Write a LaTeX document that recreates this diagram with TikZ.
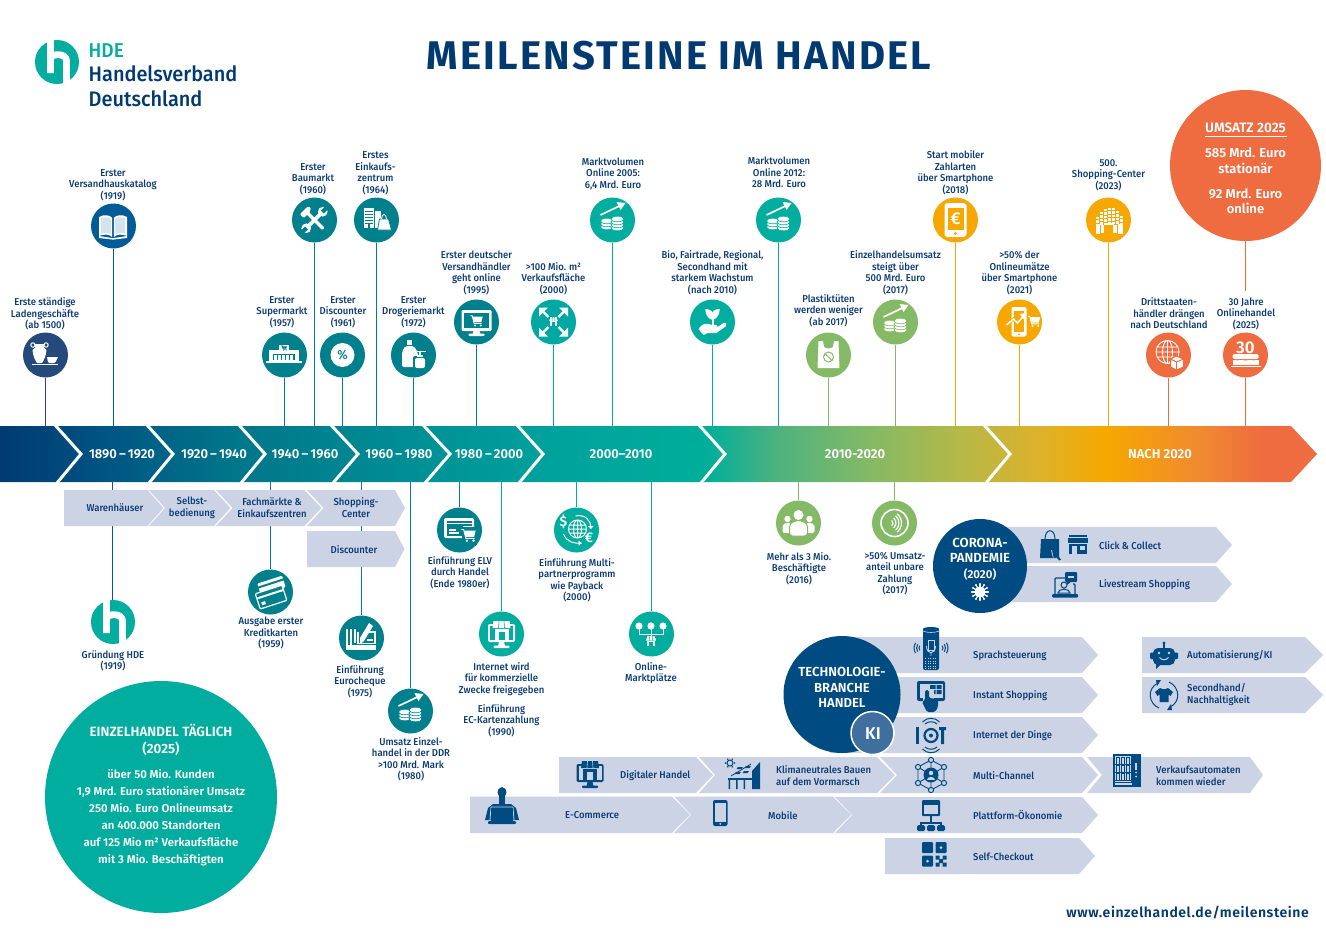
\documentclass[tikz,border=0pt]{standalone}
\usepackage{fontspec}
\setmainfont{Fira Sans}[FakeStretch=0.9]
\newfontfamily\medf{Fira Sans Medium}[FakeStretch=0.95]
\newfontfamily\semf{Fira Sans SemiBold}
\newfontfamily\titf{Fira Sans Bold}[LetterSpace=5.5]
\newfontfamily\webf{Fira Sans SemiBold}[LetterSpace=4]
\usetikzlibrary{calc}
\definecolor{navy}{HTML}{003A70}
\definecolor{lnavy}{HTML}{24497A}
\definecolor{dblue}{HTML}{004C82}
\definecolor{mblue}{HTML}{005B96}
\definecolor{teald}{HTML}{00808C}
\definecolor{tealm}{HTML}{00A8A3}
\definecolor{teall}{HTML}{00AD9F}
\definecolor{grn}{HTML}{84B965}
\definecolor{yel}{HTML}{F7A800}
\definecolor{org}{HTML}{EF6B40}
\definecolor{pale}{HTML}{CCD3E5}
\definecolor{txtc}{HTML}{0A3A75}
\definecolor{kic}{HTML}{3F6F9F}
\definecolor{bookp}{HTML}{D5E3EE}
\definecolor{ba}{HTML}{005382}
\definecolor{bb}{HTML}{00758A}
\definecolor{bc}{HTML}{009196}
\definecolor{bd}{HTML}{00A29C}
\definecolor{be}{HTML}{00AE9B}
\definecolor{bf}{HTML}{4EB27F}
\definecolor{bg}{HTML}{84B965}
\definecolor{bh}{HTML}{B5B848}
\definecolor{bi}{HTML}{DEB12A}
\definecolor{bj}{HTML}{F6A800}
\definecolor{bk}{HTML}{F08A30}
\pgfdeclarehorizontalshading{bandshade}{100bp}{
 color(0bp)=(navy);color(25bp)=(navy);
 color(28.8bp)=(ba);
 color(33.7bp)=(bb);
 color(41.3bp)=(bc);
 color(46bp)=(bd);
 color(51.8bp)=(be);
 color(54.5bp)=(bf);
 color(58bp)=(bg);
 color(61.5bp)=(bh);
 color(64.5bp)=(bi);
 color(67bp)=(bj);
 color(70.5bp)=(bk);
 color(73bp)=(org);color(100bp)=(org)}
\tikzset{
 circ/.style={circle,inner sep=0pt,minimum size=45pt,draw=none},
 conn/.style={line width=1.1pt},
 lab/.style={inner sep=0pt,align=center,text=txtc,font=\fontsize{10}{11.5}\selectfont\medf},
 chevtxt/.style={inner sep=0pt,align=center,text=txtc,font=\fontsize{10}{12}\selectfont\medf},
 chevleft/.style={chevtxt,anchor=west,align=left},
 bandtxt/.style={inner sep=0pt,text=white,font=\fontsize{13}{14}\selectfont\semf},
 big/.style={inner sep=0pt,align=center,text=white,font=\fontsize{13}{15}\selectfont\semf},
 sep/.style={draw=white,line width=3pt,miter limit=10},
}
% name,x,y,colour : milestone above the band
\newcommand{\up}[4]{\node[circ,fill=#4] (#1) at (#2,#3) {};\coordinate (#1b) at (#2,426);\draw[conn,draw=#4] (#1) -- (#1b);}
\newcommand{\dn}[4]{\node[circ,fill=#4] (#1) at (#2,#3) {};\coordinate (#1b) at (#2,482);\draw[conn,draw=#4] (#1b) -- (#1);}
% name, x left, x notch, x right, x tip, y top, y bottom
\newcommand{\chev}[7]{\fill[pale] (#2,#6)--(#4,#6)--(#5,{(#6+#7)/2})--(#4,#7)--(#2,#7)--(#3,{(#6+#7)/2})--cycle;}
% x,y, fg, bg, body
\newcommand{\ic}[4]{\begin{scope}[shift={(#1)}]\colorlet{fgc}{#2}\colorlet{bgc}{#3}#4\end{scope}}
\newcommand{\bCoins}{%
 \draw[fgc,line width=1.7] (-12,-5)--(9,-15);
 \fill[fgc] (13,-17)--(4,-18)--(8,-10)--cycle;
 \foreach \p/\q in {-5.5/7,-5.5/4,-5.5/1,5/8,5/5,5/2,5/-1}{\filldraw[fill=fgc,draw=bgc,line width=.6] (\p,\q) ellipse (6.6 and 2.8);}
}
\newcommand{\bCart}{%
 \draw[fgc,line width=.9] (-6,-5)--(-4,-5)--(-2,3)--(6,3);
 \fill[fgc] (-3.6,-4)--(7,-4)--(5.6,1.6)--(-2.4,1.6)--cycle;
 \fill[fgc] (-1,5.2) circle (1.2) (5,5.2) circle (1.2);
}
\newcommand{\bShop}{%
 \fill[fgc] (-7,-2)--(-5,-8)--(5,-8)--(7,-2)--cycle;
 \draw[bgc,line width=.5] (-2.4,-2)--(-2,-8) (2.4,-2)--(2,-8);
 \fill[fgc] (-5.6,-1.6) rectangle (5.6,6);
 \fill[bgc] (-2.4,0) rectangle (2.4,6);
}
\newcommand{\bMonShop}{%
 \fill[fgc,rounded corners=1.4] (-13.5,-10) rectangle (13.5,8);
 \fill[bgc] (-11.5,-8) rectangle (11.5,6);
 \fill[fgc] (-2.5,8)--(2.5,8)--(3.5,12)--(-3.5,12)--cycle;
 \fill[fgc,rounded corners=.8] (-8,11.5) rectangle (8,14);
 \fill[fgc] (-7,-5) rectangle (7,6);
 \fill[bgc] (-3,-2) rectangle (3,6);
 \fill[fgc] (-8,-13)--(8,-13)--(9,-6)--(-9,-6)--cycle;
 \draw[bgc,line width=.6] (-3,-6)--(-2.5,-13) (3,-6)--(2.5,-13);
}
\newcommand{\bWave}{\draw[fgc,line width=1] (0,0) ++(-35:4) arc (-35:35:4);\draw[fgc,line width=1] (0,0) ++(-35:6.5) arc (-35:35:6.5);\draw[fgc,line width=1] (0,0) ++(-35:9) arc (-35:35:9);}
\begin{document}
\begin{tikzpicture}[x=1pt,y=-1pt]
\useasboundingbox (0,0) rectangle (1326,935);
\fill[white] (0,0) rectangle (1326,935);

%% ---------------- logo and title
\newcommand{\hlogo}[2]{\begin{scope}[shift={(#1,#2)}]
 \fill[teall] (0,0) circle (22);
 \draw[white,line width=6.8] (-6.5,-23)--(-6.5,11) (-6.5,-3.5) .. controls (-5,-9) and (9.5,-9) .. (9.5,-1) -- (9.5,23);
 \end{scope}}
\hlogo{57}{62}
\node[inner sep=0,anchor=base west,text=teall,font=\fontsize{20}{22}\selectfont\medf] (hde) at (88.5,57) {HDE};
\node[inner sep=0,anchor=base west,text=navy,font=\fontsize{21}{24}\selectfont\medf] (hv) at (88.5,81) {Handelsverband};
\node[inner sep=0,anchor=base west,text=navy,font=\fontsize{21}{24}\selectfont\medf] (hd) at (88.5,106) {Deutschland};
\node[inner sep=0,text=navy,font=\fontsize{40}{42}\selectfont\titf] (title) at (679,56) {MEILENSTEINE IM HANDEL};
\node[inner sep=0,anchor=east,text=navy,font=\fontsize{14}{16}\selectfont\webf] (web) at (1309,913) {www.einzelhandel.de/meilensteine};

%% ---------------- band
\path[shading=bandshade,shading angle=0] (0,426)--(1291,426)--(1317,454)--(1291,482)--(0,482)--cycle;
\foreach \a/\b in {55/81,147/173,239/265,331/358,423/450,517/543,699/725,984/1010}{
 \pgfmathsetmacro{\c}{\a+2}
 \draw[sep] (\a,425)--(\b,454)--(\c,483);}
\node[bandtxt] (t1) at (122,454) {1890\,–\,1920};
\node[bandtxt] (t2) at (214,454) {1920\,–\,1940};
\node[bandtxt] (t3) at (305,454) {1940\,–\,1960};
\node[bandtxt] (t4) at (399,454) {1960\,–\,1980};
\node[bandtxt] (t5) at (489,454) {1980\,–\,2000};
\node[bandtxt] (t6) at (621,454) {2000–2010};
\node[bandtxt] (t7) at (855,454) {2010-2020};
\node[bandtxt] (t8) at (1160,454) {NACH 2020};

%% ---------------- milestones above
\up{m1}{45.5}{355}{lnavy}
\up{m2}{113.5}{226}{mblue}
\up{m3}{284.5}{355}{teald}
\up{m4}{314.5}{220}{teald}
\up{m5}{342.5}{355}{teald}
\up{m6}{376.5}{220}{teald}
\up{m7}{413.5}{355}{teald}
\up{m8}{476.5}{322}{teald}
\up{m9}{553.5}{322}{tealm}
\up{m10}{612.5}{220}{teall}
\up{m11}{712.5}{322}{teall}
\up{m12}{778.5}{220}{teall}
\up{m13}{828.5}{355}{grn}
\up{m14}{895.5}{322}{grn}
\up{m15}{955.5}{220}{yel}
\up{m16}{1019.5}{322}{yel}
\up{m17}{1108.5}{220}{yel}
\up{m18}{1168.5}{355}{org}
\up{m19}{1245.5}{355}{org}

\node[lab,anchor=south] (l1) at (45,330.5) {Erste ständige\\Ladengeschäfte\\(ab 1500)};
\node[lab,anchor=south] (l2) at (113,201) {Erster\\Versandhauskatalog\\(1919)};
\node[lab,anchor=south] (l3) at (282,328) {Erster\\Supermarkt\\(1957)};
\node[lab,anchor=south] (l4) at (313,195) {Erster\\Baumarkt\\(1960)};
\node[lab,anchor=south] (l5) at (343,328) {Erster\\Discounter\\(1961)};
\node[lab,anchor=south] (l6) at (375.5,195) {Erstes\\Einkaufs-\\zentrum\\(1964)};
\node[lab,anchor=south] (l7) at (413.5,328) {Erster\\Drogeriemarkt\\(1972)};
\node[lab,anchor=south] (l8) at (476.5,295) {Erster deutscher\\Versandhändler\\geht online\\(1995)};
\node[lab,anchor=south] (l9) at (553.5,295) {>100 Mio. m²\\Verkaufsfläche\\(2000)};
\node[lab,anchor=south] (l10) at (613,190) {Marktvolumen\\Online 2005:\\6,4 Mrd. Euro};
\node[lab,anchor=south] (l11) at (712.5,295) {Bio, Fairtrade, Regional,\\Secondhand mit\\starkem Wachstum\\(nach 2010)};
\node[lab,anchor=south] (l12) at (779,188) {Marktvolumen\\Online 2012:\\28 Mrd. Euro};
\node[lab,anchor=south] (l13) at (828.5,327) {Plastiktüten\\werden weniger\\(ab 2017)};
\node[lab,anchor=south] (l14) at (895.5,295) {Einzelhandelsumsatz\\steigt über\\500 Mrd. Euro\\(2017)};
\node[lab,anchor=south] (l15) at (955.5,195) {Start mobiler\\Zahlarten\\über Smartphone\\(2018)};
\node[lab,anchor=south] (l16) at (1019.5,295) {>50\% der\\Onlineumätze\\über Smartphone\\(2021)};
\node[lab,anchor=south] (l17) at (1108.5,191) {500.\\Shopping-Center\\(2023)};
\node[lab,anchor=south] (l18) at (1169,329) {Drittstaaten-\\händler drängen\\nach Deutschland};
\node[lab,anchor=south] (l19) at (1246,330) {30 Jahre\\Onlinehandel\\(2025)};

%% ---------------- turnover circle
\node[circle,inner sep=0,minimum size=151pt,fill=org] (umsatz) at (1245.5,165.5) {};
\coordinate (umsatzend) at (1245.5,291);
\draw[conn,draw=org] (umsatz) -- (umsatzend);
\node[big,font=\fontsize{13.6}{15}\selectfont\semf] (u1) at (1245.5,127.5) {UMSATZ 2025};
\coordinate (ua) at (1204.5,136.5);\coordinate (ub) at (1287,136.5);
\draw[white,line width=.9] (ua)--(ub);
\node[big] (u2) at (1245.5,153) {585 Mrd. Euro};
\node[big] (u3) at (1245.5,168.5) {stationär};
\node[big] (u4) at (1245.5,193.5) {92 Mrd. Euro};
\node[big] (u5) at (1245.5,208.5) {online};

%% ---------------- milestones below
\coordinate (hdeb) at (112.5,482);
\node[circ,minimum size=44pt] (hdec) at (112.5,622) {};
\draw[conn,draw=mblue] (hdeb) -- (hdec);
\hlogo{113}{622}
\dn{d1}{270.5}{592}{teald}
\dn{d2}{361.5}{638}{teald}
\dn{d3}{410.5}{711}{teald}
\dn{d4}{459.5}{530}{teald}
\dn{d5}{501.5}{634}{teall}
\dn{d6}{576.5}{530}{teall}
\dn{d7}{651.5}{634}{teall}
\dn{d8}{798.5}{523}{grn}
\dn{d9}{894.5}{523}{grn}

\node[lab,anchor=north] (b0) at (113,650) {Gründung HDE\\(1919)};
\node[lab,anchor=north] (b1) at (271,617) {Ausgabe erster\\Kreditkarten\\(1959)};
\node[lab,anchor=north] (b2) at (360,665) {Einführung\\Eurocheque\\(1975)};
\node[lab,anchor=north] (b3) at (411,737) {Umsatz Einzel-\\handel in der DDR\\>100 Mrd. Mark\\(1980)};
\node[lab,anchor=north] (b4) at (460,556) {Einführung ELV\\durch Handel\\(Ende 1980er)};
\node[lab,anchor=north] (b5) at (501.5,662) {Internet wird\\für kommerzielle\\Zwecke freigegeben};
\node[lab,anchor=north] (b5b) at (501.5,704) {Einführung\\EC-Kartenzahlung\\(1990)};
\node[lab,anchor=north] (b6) at (577,558) {Einführung Multi-\\partnerprogramm\\wie Payback\\(2000)};
\node[lab,anchor=north] (b7) at (651,662) {Online-\\Marktplätze};
\node[lab,anchor=north] (b8) at (799,552) {Mehr als 3 Mio.\\Beschäftigte\\(2016)};
\node[lab,anchor=north] (b9) at (895,552) {>50\% Umsatz-\\anteil unbare\\Zahlung\\(2017)};

%% ---------------- era chevrons
\chev{c1}{64}{64}{147.5}{163.5}{490}{526}
\chev{c2}{149}{165}{214}{230.5}{490}{526}
\chev{c3}{216}{232.5}{304.5}{321.5}{490}{526}
\chev{c4}{307}{323.5}{395}{405}{490}{526}
\chev{c5}{307}{307}{395}{404.5}{531}{567}
\node[chevtxt] (ct1) at (115,507.5) {Warenhäuser};
\node[chevtxt] (ct2) at (192,507.5) {Selbst-\\bedienung};
\node[chevtxt] (ct3) at (272,507.5) {Fachmärkte \&\\Einkaufszentren};
\node[chevtxt] (ct4) at (356,507.5) {Shopping-\\Center};
\node[chevtxt] (ct5) at (354,549.5) {Discounter};

%% ---------------- corona
\chev{r1}{975}{975}{1216}{1232}{527}{563}
\chev{r2}{975}{975}{1216}{1232}{566}{602}
\node[circle,inner sep=0,minimum size=94pt,fill=dblue] (corona) at (980,566) {};
\node[big,font=\fontsize{13.2}{15.4}\selectfont\semf] (ctxt) at (980,550.5) {CORONA-\\PANDEMIE};
\node[big,font=\fontsize{11.5}{13}\selectfont\semf] (cyr) at (980,574) {(2020)};
\node[chevleft] (rt1) at (1099,545.5) {Click \& Collect};
\node[chevleft] (rt2) at (1099,584.5) {Livestream Shopping};

%% ---------------- technology rows
\chev{s1}{830}{830}{1082}{1098}{637}{673}
\chev{s2}{830}{830}{1082}{1098}{677}{713}
\chev{s3}{830}{830}{1082}{1098}{717}{753}
\chev{s4}{880}{897}{1082}{1098}{757}{793}
\chev{s5}{835}{852}{1082}{1098}{797}{833}
\chev{s6}{885}{885}{1079}{1095}{838}{874}
\chev{a1}{559}{559}{696}{713}{757}{793}
\chev{a2}{699}{715}{877}{895}{757}{793}
\chev{a3}{1087}{1102}{1250}{1263}{757}{793}
\chev{e1}{470}{470}{672}{690}{796.5}{833}
\chev{e2}{674}{691}{833}{851}{796.5}{833}
\chev{k1}{1142}{1142}{1305}{1323}{637}{673}
\chev{k2}{1142}{1142}{1305}{1323}{677}{713}
\node[circle,inner sep=0,minimum size=117pt,fill=dblue] (tech) at (842,694.5) {};
\node[big,font=\fontsize{13.1}{15.8}\selectfont\semf] (techt) at (842,687.5) {TECHNOLOGIE-\\BRANCHE\\HANDEL};
\node[circle,inner sep=0,minimum size=43pt,fill=kic,draw=white,line width=1.5pt] (ki) at (872.5,733) {};
\node[big,font=\fontsize{17}{18}\selectfont\semf] (kit) at (873,734) {KI};
\node[chevleft] (st1) at (973,655.5) {Sprachsteuerung};
\node[chevleft] (st2) at (973,695.5) {Instant Shopping};
\node[chevleft] (st3) at (973,736) {Internet der Dinge};
\node[chevleft] (st4) at (973,775.5) {Multi-Channel};
\node[chevleft] (st5) at (973,815.5) {Plattform-Ökonomie};
\node[chevleft] (st6) at (973,856.5) {Self-Checkout};
\node[chevleft] (at1) at (620,775.5) {Digitaler Handel};
\node[chevleft] (at2) at (776,776) {Klimaneutrales Bauen\\auf dem Vormarsch};
\node[chevleft] (at3) at (1156,776) {Verkaufsautomaten\\kommen wieder};
\node[chevleft] (et1) at (565,815.5) {E-Commerce};
\node[chevleft] (et2) at (768,815.5) {Mobile};
\node[chevleft] (kt1) at (1187,655.5) {Automatisierung/KI};
\node[chevleft] (kt2) at (1187,695) {Secondhand/\\Nachhaltigkeit};

%% ---------------- big green circle
\node[circle,inner sep=0,minimum size=232pt,fill=teall] (daily) at (161,797) {};
\node[big,font=\fontsize{13.4}{17}\selectfont\semf] (dt) at (161,739.5) {EINZELHANDEL TÄGLICH\\(2025)};
\node[big,font=\fontsize{11.4}{17}\selectfont\semf] (dl) at (161,818) {über 50 Mio. Kunden\\1,9 Mrd. Euro stationärer Umsatz\\250 Mio. Euro Onlineumsatz\\an 400.000 Standorten\\auf 125 Mio m² Verkaufsfläche\\mit 3 Mio. Beschäftigten};

%% ================ ICONS ================
% vase
\ic{45,355}{white}{lnavy}{
 \fill[fgc] (-11,-11)--(0,-11)--(-1.5,-8)--(1.5,-5) .. controls (1,1) and (-1,5) .. (-3,8)--(-8,8) .. controls (-10,5) and (-12,1) .. (-12.5,-5)--(-9.5,-8)--cycle;
 \draw[fgc,line width=1] (-12,-10) circle (2.2) (1,-10) circle (2.2);
 \fill[fgc] (2,2)--(13,2)--(10.5,7)--(9,8)--(4.5,8)--(3,7)--cycle;
 \fill[fgc] (-13,9.3) rectangle (13,10.3);
}
% book
\ic{113,226}{white}{mblue}{
 \fill[fgc] (-14,-9) .. controls (-9,-12) and (-3,-11) .. (-.8,-8)--(-.8,11) .. controls (-4,8) and (-9,8) .. (-14,10)--cycle;
 \fill[fgc] (14,-9) .. controls (9,-12) and (3,-11) .. (.8,-8)--(.8,11) .. controls (4,8) and (9,8) .. (14,10)--cycle;
 \fill[fgc] (-14,10)--(-1,12)--(1,12)--(14,10)--(14,12)--(1,13.5)--(-1,13.5)--(-14,12)--cycle;
 \fill[bookp] (-12,-7.6) .. controls (-8,-9.6) and (-4,-9) .. (-2.2,-6.6)--(-2.2,8.4) .. controls (-5,6.6) and (-9,6.6) .. (-12,7.6)--cycle;
 \fill[bookp] (12,-7.6) .. controls (8,-9.6) and (4,-9) .. (2.2,-6.6)--(2.2,8.4) .. controls (5,6.6) and (9,6.6) .. (12,7.6)--cycle;
}
% supermarket
\ic{284,355}{white}{teald}{
 \fill[fgc] (-18,6) rectangle (18,8);
 \fill[fgc] (-15,-5) rectangle (15,6);
 \fill[fgc] (-5,-10) rectangle (5,-4);
 \fill[bgc] (-11,-1) rectangle (11,5);
 \foreach \p in {-10,-6,-2,2,6}{\fill[fgc] (\p,-.5) rectangle +(3,5.5);}
 \begin{scope}[shift={(0,-7)},scale=.42]\colorlet{fgc}{teald}\bCart\end{scope}
}
% tools
\ic{314.5,220}{white}{teald}{
 \begin{scope}[rotate=45,scale=.9]
 \fill[fgc,rounded corners=1] (-1.9,-15) rectangle (1.9,14);
 \fill[fgc,rounded corners=1] (-7,-16)--(5,-16)--(7,-13)--(3,-10)--(-7,-10)--cycle;
 \end{scope}
 \begin{scope}[rotate=-45,scale=.9]
 \fill[fgc,rounded corners=1] (-2.1,-12) rectangle (2.1,12);
 \fill[fgc] (0,-13) circle (5.4);\fill[bgc] (-2.2,-20) rectangle (2.2,-12.5);
 \fill[fgc] (0,13) circle (5.4);\fill[bgc] (-2.2,12.5) rectangle (2.2,20);
 \end{scope}
}
% mall
\ic{376.5,220}{white}{teald}{
 \fill[fgc] (-13,-12) rectangle (-3,8);
 \foreach \q in {-9,-6,-3,0,3}{\fill[bgc] (-12,\q) rectangle (-4,\q+.9);}
 \fill[bgc] (-8.5,4) rectangle (-6.5,8);
 \fill[fgc] (-2,-9) rectangle (4,8);
 \filldraw[fill=fgc,draw=bgc,line width=.8] (3,-1)--(12,-1)--(15,10)--(1,10)--cycle;
 \draw[fgc,line width=.9] (5,-1) .. controls (5,-7) and (10,-7) .. (10,-1);
}
% percent
\ic{342.5,355}{white}{teald}{
 \fill[fgc] (0,0) circle (12);
 \node[inner sep=0,text=teald,font=\fontsize{13}{13}\selectfont\medf] (pct) at (0,0) {\%};
}
% bottles
\ic{413,355}{white}{teald}{
 \fill[fgc] (-6,-15) rectangle (-1,-10);
 \fill[fgc,rounded corners=2] (-11,12)--(-11,-3)--(-8,-9)--(1,-9)--(5,-2)--(5,12)--cycle;
 \fill[bgc,rounded corners=2] (0,14)--(0,1)--(12,1)--(13,14)--cycle;
 \fill[fgc,rounded corners=2] (2,13)--(2,3)--(12,3)--(12,13)--cycle;
 \fill[fgc] (4,0) rectangle (10,2);\fill[fgc] (5.5,-3) rectangle (8,0);\fill[fgc] (3,-4) rectangle (13,-2.6);
}
% monitor + cart
\ic{476.5,322}{white}{teald}{
 \fill[fgc,rounded corners=1.2] (-15,-12) rectangle (15,9);
 \fill[bgc] (-12.5,-9.5) rectangle (12.5,6);
 \fill[fgc] (-3,9)--(3,9)--(4,12)--(-4,12)--cycle;
 \fill[fgc,rounded corners=.8] (-8,11.5) rectangle (8,14);
 \begin{scope}[shift={(-.5,-1.5)},scale=.95]\bCart\end{scope}
}
% expanding arrows + shop
\ic{553.5,322}{white}{tealm}{
 \foreach \sx/\sy in {1/1,-1/1,1/-1,-1/-1}{
 \begin{scope}[xscale=\sx,yscale=\sy]
 \draw[fgc,line width=2.2] (5,5)--(11,11);
 \fill[fgc] (14.5,14.5)--(5.5,14.5)--(14.5,5.5)--cycle;
 \end{scope}}
 \begin{scope}[shift={(0,0)},scale=.6]\bShop\end{scope}
}
% coins
\ic{612.5,220}{white}{teall}{\bCoins}
\ic{778.5,220}{white}{teall}{\bCoins}
\ic{895.5,322}{white}{grn}{\bCoins}
\ic{410.5,711}{white}{teald}{\bCoins}
% hand + plant
\ic{712.5,322}{white}{teall}{
 \fill[fgc] (0,-2) .. controls (-8,-5) and (-7,-12) .. (-7,-13) .. controls (-3,-13) and (0,-11) .. (0,-9) .. controls (0,-11) and (3,-13) .. (7,-13) .. controls (7,-12) and (8,-5) .. (0,-2)--cycle;
 \fill[fgc] (-1,-3) rectangle (1,3);
 \fill[fgc] (-14,7) .. controls (-10,1) and (-6,1) .. (-2,2.5)--(4,3) .. controls (6,3.5) and (5,6) .. (3,6)--(-2,6)--(3,6.5)--(11,1) .. controls (14,0) and (15,3) .. (13,4.5)--(4,11)--(-5,11)--(-9,13)--cycle;
}
% plastic bag
\ic{828.5,355}{white}{grn}{
 \fill[fgc] (-10,-14)--(-5.5,-14)--(-4.5,-8) .. controls (-2,-6) and (2,-6) .. (4.5,-8)--(5.5,-14)--(10,-14)--(11,13)--(-11,13)--cycle;
 \draw[bgc,line width=1] (0,2) circle (5);
 \draw[bgc,line width=1] (-3.5,-1.5)--(3.5,5.5);
}
% phone with euro
\ic{955.5,220}{white}{yel}{
 \fill[fgc,rounded corners=3] (-11,-17) rectangle (11,17);
 \fill[bgc] (-8,-12.5) rectangle (8,10);
 \fill[bgc] (0,13.5) circle (1.7);
 \node[inner sep=0,text=white,font=\fontsize{17}{17}\selectfont\semf] (eur) at (0,-1.5) {€};
}
% phone, graph, cart
\ic{1019.5,322}{white}{yel}{
 \fill[fgc,rounded corners=2] (-8,-15) rectangle (7,14.5);
 \fill[bgc] (-5.8,-11) rectangle (4.8,10);
 \fill[bgc] (-.5,12.3) circle (1);
 \draw[bgc,line width=3.2] (-13,2)--(-6,-3)--(-2,1)--(5,-7);
 \draw[fgc,line width=1.5] (-13,3)--(-6,-3)--(-2,1)--(4,-6);
 \fill[fgc] (7,-9)--(0,-8)--(5,-2)--cycle;
 \begin{scope}[shift={(14,-1)},scale=.95]\bCart\end{scope}
}
% shopping centre building
\ic{1108.5,220}{white}{yel}{
 \foreach \p/\h in {-13/-3,-9/-8,-5/-11,-1/-12,3/-12,7/-9,11/-4}{
  \foreach \q in {0,1,2,3,4}{
   \pgfmathsetmacro{\yy}{\h+\q*3.4}
   \ifdim \yy pt<4pt \fill[fgc] (\p,\yy) rectangle +(3,2.4);\fi}}
 \fill[fgc] (-13,4) rectangle (-9,14);\fill[fgc] (-8,5) rectangle (-4.5,13);
 \fill[fgc] (4.5,5) rectangle (8,13);\fill[fgc] (9,4) rectangle (14,14);
 \fill[fgc] (-5,3)--(5,3)--(5,5)--(-5,5)--cycle;
}
% globe + box
\ic{1168.5,355}{white}{org}{
 \begin{scope}[shift={(-1,-3)}]
 \draw[fgc,line width=.9] (0,0) circle (11.5) (0,0) ellipse (5 and 11.5) (-11.5,0)--(11.5,0) (-10,-5)--(10,-5) (-10,5)--(10,5) (0,-11.5)--(0,11.5);
 \end{scope}
 \filldraw[fill=fgc,draw=bgc,line width=1] (2,4)--(8,1)--(15,4)--(15,12)--(8,15)--(2,12)--cycle;
 \draw[bgc,line width=.9] (2,4)--(8,7)--(15,4) (8,7)--(8,15);
}
% cake 30
\ic{1245.5,355}{white}{org}{
 \node[inner sep=0,text=white,font=\fontsize{17}{17}\selectfont\semf] (n30) at (0,-7.5) {30};
 \fill[fgc,rounded corners=1.5] (-13,-1)--(13,-1)--(13,4)--(-13,4)--cycle;
 \fill[fgc] (-13,4.8) rectangle (13,10);
 \fill[bgc] (-13,3.5) .. controls (-9,6) and (-6,6) .. (-4,4) .. controls (-2,6) and (2,6) .. (4,4) .. controls (6,6) and (9,6) .. (13,3.5)--(13,4.8)--(-13,4.8)--cycle;
 \fill[fgc] (-15,10.5) rectangle (15,12);
}
% credit cards
\ic{270.5,592}{white}{teald}{
 \begin{scope}[rotate=18,shift={(3,-6)}]\fill[fgc,rounded corners=1] (-13,-6) rectangle (13,6);\fill[bgc] (-14,-3) rectangle (14,-1);\end{scope}
 \begin{scope}[rotate=18,shift={(-1,5)}]\filldraw[fill=bgc,draw=fgc,line width=1.2,rounded corners=1] (-14,-8) rectangle (14,8);\fill[fgc] (-14,-4) rectangle (14,-2);\fill[fgc] (-11,2) rectangle (-7,5);\end{scope}
}
% cheque and pen
\ic{361,638}{white}{teald}{
 \fill[fgc] (-15,-9) rectangle (-13,7);
 \fill[fgc] (-11,-9) rectangle (-9,7);
 \fill[fgc] (-7,-9) rectangle (-5,5);
 \fill[fgc] (-15,7) rectangle (15,12);
 \draw[fgc,line width=1.5] (-3,-6)--(-3,5.5)--(14,5.5)--(14,-6)--(7,-6);
 \fill[fgc] (-1,6)--(-1,0)--(8,-15)--(12,-12)--(3,3)--cycle;
 \fill[fgc] (6,.5) rectangle (12,2.5);
}
% ELV card + cart
\ic{460,530}{white}{teald}{
 \fill[fgc,rounded corners=2] (-16,-12) rectangle (14,8);
 \fill[bgc] (-13.5,-9.5) rectangle (11.5,-7.5);
 \fill[bgc] (-13.5,-4.5) rectangle (3,5.5);
 \fill[bgc] (-13.5,-6) rectangle (11.5,-4.5);
 \fill[fgc] (-11,-1) rectangle (-4,1);\fill[fgc] (-11,2) rectangle (-1,3.5);
 \fill[bgc] (2,-3) rectangle (17,15);
 \begin{scope}[shift={(8,5)},scale=1.1]\bCart\end{scope}
}
% shop monitor
\ic{501.5,634}{white}{teall}{\bMonShop}
% multipartner
\ic{576.5,530}{white}{teall}{
 \draw[fgc,line width=1] (1,-1) circle (9) (1,-1) ellipse (4 and 9) (-8,-1)--(10,-1) (-7,-5)--(9,-5) (-7,3)--(9,3) (1,-10)--(1,8);
 \draw[fgc,line width=1] (-1,-14) .. controls (8,-16) and (15,-10) .. (14,-2);
 \draw[fgc,line width=1] (-13,4) .. controls (-10,12) and (-2,14) .. (5,13);
 \fill[fgc] (14.5,-1)--(11.5,-4)--(17,-4)--cycle;
 \fill[fgc] (5,13)--(2,10.5)--(2,16)--cycle;
 \node[inner sep=0,text=white,font=\fontsize{14}{14}\selectfont\semf] (dol) at (-13,-8) {\$};
 \node[inner sep=0,text=white,font=\fontsize{14}{14}\selectfont\semf] (eu2) at (12.5,8) {€};
}
% online marketplaces
\ic{651,634}{white}{teall}{
 \fill[fgc] (-12,-8) circle (3.6) (0,-8) circle (3.6) (12,-8) circle (3.6);
 \draw[fgc,line width=.9] (-12,-8)--(-12,0)--(12,0)--(12,-8) (0,-8)--(0,4);
 \begin{scope}[shift={(0,8)},scale=.72]\bShop\end{scope}
}
% people
\ic{798.5,523}{white}{grn}{
 \fill[fgc] (-11,-4) circle (3.2) (11,-4) circle (3.2);
 \fill[fgc,rounded corners=2] (-16,10)--(-16,1)--(-8,-.5)--(-8,10)--cycle;
 \fill[fgc,rounded corners=2] (16,10)--(16,1)--(8,-.5)--(8,10)--cycle;
 \fill[fgc] (0,-8) circle (5);
 \filldraw[fill=fgc,draw=bgc,line width=1,rounded corners=3] (-9,13)--(-9,1)--(-3,-2.4)--(3,-2.4)--(9,1)--(9,13)--cycle;
}
% contactless
\ic{894.5,523}{white}{grn}{
 \draw[fgc,line width=1.6] (0,0) circle (13.5);
 \draw[fgc,line width=1.2] (-5,0) ++(-50:3.5) arc (-50:50:3.5);
 \draw[fgc,line width=1.2] (-5,0) ++(-50:6.5) arc (-50:50:6.5);
 \draw[fgc,line width=1.2] (-5,0) ++(-50:9.5) arc (-50:50:9.5);
 \draw[fgc,line width=1.2] (-5,0) ++(-50:12) arc (-50:50:12);
}
% virus
\ic{980,592}{white}{dblue}{
 \fill[fgc] (0,0) circle (5.5);
 \foreach \t in {0,30,...,330}{\draw[fgc,line width=1.2] (0,0)--(\t:8);\fill[fgc] (\t:8) circle (1.1);}
}
% bag + cursor
\ic{1050,545}{dblue}{pale}{
 \fill[fgc] (-9,-6)--(9,-6)--(9,13)--(-10,13)--cycle;
 \draw[fgc,line width=1] (-5,-6) .. controls (-5,-17) and (5,-17) .. (5,-6);
 \fill[pale] (1,5)--(9,9)--(7,10.5)--(11,15)--(8,15)--(5,11)--(3,13)--cycle;
 \fill[fgc] (2,5)--(9.5,9)--(7.5,10.5)--(11,14.5)--(9.2,15.5)--(5.5,11.5)--(3.7,13)--cycle;
}
% shop front
\ic{1078,545}{dblue}{pale}{
 \fill[fgc] (-9,-10) rectangle (9,-8);
 \fill[fgc] (-10,-7) rectangle (10,-2);
 \fill[fgc] (-9,-1) rectangle (9,9);
 \fill[bgc] (-6,1) rectangle (-1,9);
 \fill[bgc] (2,1) rectangle (7,5);
}
% laptop, person, bubble
\ic{1065,585}{dblue}{pale}{
 \draw[fgc,line width=1.3,rounded corners=1] (-10,9)--(-10,-7)--(0,-7) (8,-1)--(10,-1)--(10,9);
 \fill[fgc,rounded corners=1] (-13,9) rectangle (13,12.5);
 \draw[fgc,line width=1] (-1,0) circle (3) (-7,8) .. controls (-7,3) and (5,3) .. (5,8)--cycle;
 \fill[fgc,rounded corners=1] (0,-13) rectangle (12,-3);
 \fill[fgc] (2,-4)--(7,-4)--(2,0)--cycle;
 \fill[bgc] (3,-9) rectangle (9,-7.5);
}
% smart speaker
\ic{931,648}{dblue}{pale}{
 \fill[fgc,rounded corners=2] (-8,-20) rectangle (8,22);
 \fill[fgc] (0,-19) ellipse (8 and 2);
 \draw[pale,line width=.6] (-8,-17) .. controls (-4,-15) and (4,-15) .. (8,-17);
 \draw[pale,line width=.9] (-3,-8) rectangle (3,2);
 \draw[pale,line width=.9] (-4.5,-2) .. controls (-4.5,7) and (4.5,7) .. (4.5,-2) (0,4)--(0,8);
 \foreach \p in {-6,-3.5,-1,1.5,4}{\foreach \q in {10,12.5,15,17.5,20}{\fill[pale] (\p,\q) rectangle +(1.2,1.2);}}
 \begin{scope}[shift={(8,0)}]\bWave\end{scope}
 \begin{scope}[shift={(-8,0)},xscale=-1]\bWave\end{scope}
}
% instant shopping
\ic{931,695}{dblue}{pale}{
 \fill[fgc,rounded corners=2] (-14,-14) rectangle (14,6);
 \fill[bgc] (-11,-11) rectangle (11.5,3);
 \fill[fgc] (-1,-10) rectangle (4.5,-6) (5.5,-10) rectangle (10.5,-6) (-1,-5) rectangle (4.5,-1) (5.5,-5) rectangle (10.5,-1);
 \fill[fgc] (-13,-9) rectangle (-11,-7);
 \fill[bgc] (-8,-6) rectangle (3,18);
 \fill[fgc,rounded corners=1.5] (-6,-5)--(-2,-5)--(-2,3)--(7,4)--(7,12)--(4,17)--(-4,17)--(-9,7)--(-6,5)--cycle;
}
% IoT
\ic{931,735}{dblue}{pale}{
 \fill[fgc] (-15,-8) rectangle (-12,9);
 \draw[fgc,line width=2.2] (0,.5) circle (6.5);
 \fill[fgc] (0,.5) circle (2);
 \fill[fgc] (8,-8) rectangle (15,-5) (10,-8) rectangle (13,9);
 \draw[fgc,line width=1] (-6,-11) .. controls (-3,-14) and (3,-14) .. (6,-11);
 \draw[fgc,line width=1] (-8.5,-13) .. controls (-4,-18) and (4,-18) .. (8.5,-13);
 \draw[fgc,line width=1] (-6,12) .. controls (-3,15) and (3,15) .. (6,12);
 \draw[fgc,line width=1] (-8.5,14) .. controls (-4,19) and (4,19) .. (8.5,14);
}
% network
\ic{931,775}{dblue}{pale}{
 \draw[fgc,line width=.9] (0,-15)--(13,-8)--(13,8)--(0,15)--(-13,8)--(-13,-8)--cycle;
 \draw[fgc,line width=.9] (0,0)--(0,-15) (0,0)--(13,-8) (0,0)--(13,8) (0,0)--(0,15) (0,0)--(-13,8) (0,0)--(-13,-8);
 \foreach \p/\q in {0/-15,13/-8,13/8,0/15,-13/8,-13/-8}{\filldraw[fill=pale,draw=fgc,line width=1] (\p,\q) circle (2.6);}
 \fill[fgc] (0,0) circle (7.5);
 \fill[pale] (0,-2) circle (2.2);\fill[pale] (-3.8,4.5) .. controls (-3.8,.5) and (3.8,.5) .. (3.8,4.5)--cycle;
}
% platform
\ic{931,815}{dblue}{pale}{
 \fill[fgc,rounded corners=1] (-9,-15) rectangle (9,1);
 \fill[bgc] (-7,-10) rectangle (7,-1);
 \draw[fgc,line width=1.1] (0,1)--(0,8) (-10,13)--(-10,8)--(10,8)--(10,13);
 \fill[fgc,rounded corners=1.5] (-14,10) rectangle (-6,16) (-4,10) rectangle (4,16) (6,10) rectangle (14,16);
}
% QR
\ic{934,855}{dblue}{pale}{
 \fill[fgc,rounded corners=1] (-12,-13) rectangle (-1,-2);
 \fill[fgc,rounded corners=1] (1.5,-13) rectangle (12.5,-2);\fill[bgc] (7,-7.5) circle (1.5);
 \fill[fgc,rounded corners=1] (-12,.5) rectangle (-1,11.5);\fill[bgc] (-6.5,6) circle (1.5);
 \fill[fgc] (1.5,.5) rectangle (5.5,4.5) (8.5,.5) rectangle (12.5,4.5) (5,4) rectangle (9,8) (1.5,7.5) rectangle (5.5,11.5) (8.5,7.5) rectangle (12.5,11.5);
}
% robot
\ic{1164,655}{dblue}{pale}{
 \fill[fgc] (-.8,-11) rectangle (.8,-6);\fill[fgc] (0,-12) circle (1.6);
 \fill[fgc,rounded corners=5] (-11,-7) rectangle (11,10);
 \fill[fgc,rounded corners=1] (-14,-2.5) rectangle (14,4);
 \fill[fgc] (-8,9)--(-8,14)--(-3,9)--cycle;
 \fill[bgc] (-5,-2) circle (1.4) (5,-2) circle (1.4);
 \draw[bgc,line width=1] (-4.5,2.5) .. controls (-2,5.5) and (2,5.5) .. (4.5,2.5);
}
% shirt + arrows
\ic{1164,695}{dblue}{pale}{
 \draw[fgc,line width=1] (-6,-12) .. controls (-18,-6) and (-15,9) .. (-5,13);
 \draw[fgc,line width=1] (6,12) .. controls (17,7) and (16,-8) .. (5,-13);
 \fill[fgc] (-3,-15)--(-7,-9)--(-8,-15)--cycle;
 \fill[fgc] (3,15)--(7,9)--(8,15)--cycle;
 \fill[fgc] (-4,-7)--(-1.5,-6)--(1.5,-6)--(4,-7)--(9,-3)--(6.5,1)--(4.5,-.5)--(4.5,7)--(-4.5,7)--(-4.5,-.5)--(-6.5,1)--(-9,-3)--cycle;
}
% vending machine
\ic{1127,770.5}{dblue}{pale}{
 \fill[fgc] (-14,-16.5) rectangle (14,16);
 \fill[bgc] (-12.5,-14.5) rectangle (4,11);
 \fill[bgc] (-12.5,12.5) rectangle (5,14.5);
 \foreach \q in {-13,-5,3}{\foreach \p in {-11,-6,-1}{\draw[fgc,line width=.7] (\p,\q+6)--(\p,\q)--(\p+3.5,\q)--(\p+3.5,\q+6);}
  \draw[fgc,line width=.8] (-12.5,\q+6.5)--(4,\q+6.5);}
 \fill[bgc] (8,-8) rectangle (10,-1);
 \fill[bgc] (9,2) circle (1) (9,6) circle (1);
}
% monitor with shop
\ic{590,774}{dblue}{pale}{\bMonShop}
% solar + building
\ic{744,775}{dblue}{pale}{
 \draw[fgc,line width=1] (-14,-12) circle (3);
 \foreach \t in {0,60,...,300}{\fill[fgc] ($(-14,-12)+(\t:4.4)$) circle (.9);}
 \foreach \p/\q in {-6/-8,2/-9,-8/-3,0/-4}{\fill[fgc] (\p,\q)--(\p+5,\q)--(\p+3.5,\q+2)--(\p-1.5,\q+2)--cycle;}
 \draw[fgc,line width=.8] (-13,1)--(7,-11);
 \fill[fgc] (-16,3)--(11,3)--(11,5)--(-16,5)--cycle;
 \fill[fgc] (-15.5,5) rectangle (-14,14) (-8,5) rectangle (-6.5,14) (-.5,5) rectangle (1,14);
 \fill[fgc] (8,-4)--(16,-13)--(16,14)--(8,14)--cycle;
}
% person with laptop
\ic{502,812}{dblue}{pale}{
 \fill[fgc] (0,-14) .. controls (-6,-16) and (-6,-24) .. (0,-25) .. controls (6,-24) and (6,-16) .. (0,-14)--cycle;
 \fill[fgc] (-3.4,-16) rectangle (3.4,-7);
 \fill[fgc] (-9,-8) -- (9,-8) -- (14,-4) -- (17,8) -- (-17,8) -- (-14,-4) -- cycle;
 \draw[bgc,line width=.8] (-12,8)--(-11,-5)--(11,-5)--(12,8);
 \fill[fgc] (-11,-4.2) rectangle (11,9);
 \fill[fgc,rounded corners=1] (-14,9) rectangle (14,12);
}
% mobile
\ic{720,814}{dblue}{pale}{
 \fill[fgc,rounded corners=2] (-7,-14) rectangle (7.5,12);
 \fill[bgc] (-5.5,-11) rectangle (6,7.5);
 \fill[bgc] (.3,9.8) circle (1);
}
\end{tikzpicture}
\end{document}
